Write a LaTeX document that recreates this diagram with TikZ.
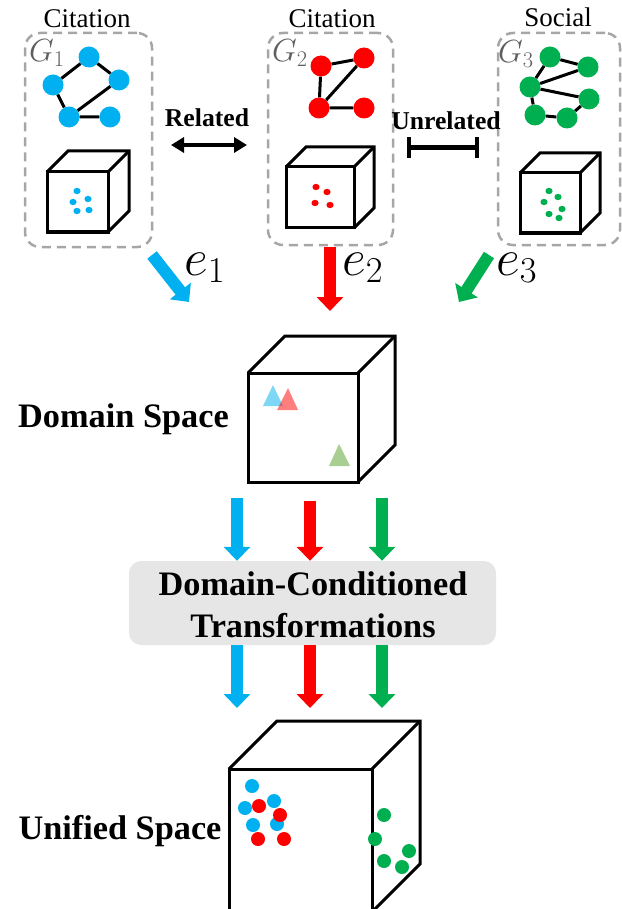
\documentclass[tikz,border=0pt]{standalone}
\usepackage{fix-cm}
\usepackage{fontspec}
\setmainfont{Liberation Serif}
\usetikzlibrary{arrows.meta}

\definecolor{cblue}{RGB}{0,176,240}
\definecolor{cred}{RGB}{255,0,0}
\definecolor{cgreen}{RGB}{0,176,80}
\definecolor{tgreen}{RGB}{112,173,71}
\definecolor{dashgray}{RGB}{166,166,166}
\definecolor{boxgray}{RGB}{231,230,230}
\definecolor{lblgray}{RGB}{95,95,95}

\tikzset{
  cubeline/.style={line width=3pt, line join=miter},
  dbox/.style={draw=dashgray, line width=2.5pt, dash pattern=on 9pt off 6pt,
               rounded corners=15pt, inner sep=0pt},
  gnode/.style={circle, fill=#1, inner sep=0pt, minimum width=21pt, minimum height=19pt},
  gedge/.style={line width=3pt},
  fat/.style={line width=12pt, -{Triangle[length=14pt,width=26pt]}},
  txt/.style={inner sep=0pt, anchor=base},
  small/.style={txt, font=\fontsize{27}{30}\selectfont},
  relfont/.style={txt, font=\fontsize{25.7}{28}\selectfont\bfseries},
  big/.style={txt, font=\fontsize{34.3}{38}\selectfont\bfseries},
  glabel/.style={inner sep=0pt, anchor=base west, text=lblgray, font=\fontsize{32}{34}\selectfont},
  elabel/.style={inner sep=0pt, anchor=base west, font=\fontsize{52}{56}\selectfont},
}

% cube: front face top-left (#1,#2), width #3, height #4, depth #5
\newcommand\drawcube[5]{%
  \draw[cubeline] (#1,#2) rectangle ++(#3,#4);
  \draw[cubeline] (#1,#2) -- ++(#5,-#5) -- ++(#3,0) -- ++(0,#4) -- ++(-#5,#5);
  \draw[cubeline] (#1+#3,#2) -- ++(#5,-#5);
}

\begin{document}
\begin{tikzpicture}[x=1pt, y=-1pt]
\useasboundingbox (0,0) rectangle (621,909);

% ---------- three input graphs ----------
\node[dbox, minimum width=127pt, minimum height=214pt] (box1) at (88.5,140) {};
\node[dbox, minimum width=125pt, minimum height=212pt] (box2) at (330.5,139) {};
\node[dbox, minimum width=122pt, minimum height=212pt] (box3) at (559,139) {};

\node[small] (cit1) at (87,28) {Citation};
\node[small] (cit2) at (332,28) {Citation};
\node[small] (soc3) at (558,27) {Social};

\node[glabel] (g1) at (29,62) {$G_1$};
\node[glabel] (g2) at (272,62) {$G_2$};
\node[glabel] (g3) at (498,63) {$G_3$};

% graph 1
\node[gnode=cblue] (a1) at (89,57) {};
\node[gnode=cblue] (a2) at (119,80) {};
\node[gnode=cblue] (a3) at (53,85) {};
\node[gnode=cblue] (a4) at (69,117) {};
\node[gnode=cblue] (a5) at (110,117) {};
\draw[gedge] (a1) -- (a2) (a1) -- (a3) (a3) -- (a4) (a4) -- (a2) (a4) -- (a5);

% graph 2
\node[gnode=cred] (b1) at (321,66) {};
\node[gnode=cred] (b2) at (364,58) {};
\node[gnode=cred] (b3) at (319,108) {};
\node[gnode=cred] (b4) at (364,108) {};
\draw[gedge] (b1) -- (b2) (b1) -- (b3) (b2) -- (b3) (b3) -- (b4);

% graph 3
\node[gnode=cgreen] (c1) at (550,57) {};
\node[gnode=cgreen] (c2) at (588,67) {};
\node[gnode=cgreen] (c3) at (530,87) {};
\node[gnode=cgreen] (c4) at (589,99) {};
\node[gnode=cgreen] (c5) at (535,115) {};
\node[gnode=cgreen] (c6) at (567,118) {};
\draw[gedge] (c1) -- (c2) (c1) -- (c3) (c3) -- (c2) (c3) -- (c4) (c3) -- (c5) (c5) -- (c6) (c6) -- (c4);

% small cubes with their embeddings
\drawcube{47}{172}{61}{60}{21}
\foreach \p in {(77,191),(88,199),(73,202),(77,211),(89,210)}
  \fill[cblue] \p ellipse (3.6pt and 3.2pt);
\drawcube{286}{167}{68}{61}{20}
\foreach \p in {(316,187),(327,192),(315,203),(330,205)}
  \fill[cred] \p ellipse (3.6pt and 3.2pt);
\drawcube{520}{173}{60}{60}{20}
\foreach \p in {(549,191),(558,197),(544,202),(562,209),(549,214),(559,218)}
  \fill[cgreen] \p ellipse (3.6pt and 3.2pt);

% relations between the graphs
\node[relfont] (rel) at (207,127) {Related};
\coordinate (relL) at (171,145);
\coordinate (relR) at (247,145);
\draw[line width=4pt, {Triangle[length=13pt,width=15pt]}-{Triangle[length=13pt,width=15pt]}] (relL) -- (relR);

\node[relfont] (unrel) at (446,130) {Unrelated};
\coordinate (unL) at (409,148);
\coordinate (unR) at (477,148);
\draw[line width=5pt] (unL) -- (unR);
\draw[line width=4.5pt] (unL) ++(0,-10.5) -- ++(0,21);
\draw[line width=4.5pt] (unR) ++(0,-10.5) -- ++(0,21);

% ---------- domain embeddings ----------
\coordinate (e1s) at (152,255);
\coordinate (e1t) at (189,302);
\coordinate (e2s) at (330,247);
\coordinate (e2t) at (330,311);
\coordinate (e3s) at (489,255);
\coordinate (e3t) at (459,302);
\draw[fat, cblue] (e1s) -- (e1t);
\draw[fat, cred] (e2s) -- (e2t);
\draw[fat, cgreen] (e3s) -- (e3t);
\node[elabel] (e1) at (184,275) {$e_1$};
\node[elabel] (e2) at (342,275) {$e_2$};
\node[elabel] (e3) at (496,275) {$e_3$};

% domain space
\drawcube{248}{373}{110}{109}{37}
\fill[cblue, opacity=0.5] (263,406) -- (273,385) -- (283,406) -- cycle;
\fill[cred, opacity=0.5] (277,410) -- (288,388) -- (298,410) -- cycle;
\fill[tgreen, opacity=0.6] (329,466) -- (339,444) -- (350,466) -- cycle;
\node[big] (dspace) at (123.5,427) {Domain Space};

% ---------- transformations ----------
\node[fill=boxgray, rounded corners=12pt, minimum width=367pt, minimum height=84pt, inner sep=0pt] (dct) at (312.5,603) {};
\node[big] (dct1) at (313,595) {Domain-Conditioned};
\node[big] (dct2) at (313,637) {Transformations};

\coordinate (i1) at (237,498);
\coordinate (i2) at (310,501);
\coordinate (i3) at (382,498);
\draw[fat, cblue] (i1) -- (i1 |- dct.north);
\draw[fat, cred] (i2) -- (i2 |- dct.north);
\draw[fat, cgreen] (i3) -- (i3 |- dct.north);

\coordinate (o1) at (237,708);
\coordinate (o2) at (310,708);
\coordinate (o3) at (382,708);
\draw[fat, cblue] (o1 |- dct.south) -- (o1);
\draw[fat, cred] (o2 |- dct.south) -- (o2);
\draw[fat, cgreen] (o3 |- dct.south) -- (o3);

% ---------- unified space ----------
\begin{scope}
  \clip (0,0) rectangle (621,909);
  \drawcube{229}{769}{143}{143}{48}
\end{scope}
\foreach \p in {(252,786),(274,801),(245,808),(253,825),(277,824)}
  \fill[cblue] \p circle (7pt);
\foreach \p in {(259,806),(280,815),(258,839),(284,839)}
  \fill[cred] \p circle (7pt);
\foreach \p in {(384,815),(375,839),(409,851),(384,861),(402,867)}
  \fill[cgreen] \p circle (7pt);
\node[big] (uspace) at (120,839) {Unified Space};

\end{tikzpicture}
\end{document}
